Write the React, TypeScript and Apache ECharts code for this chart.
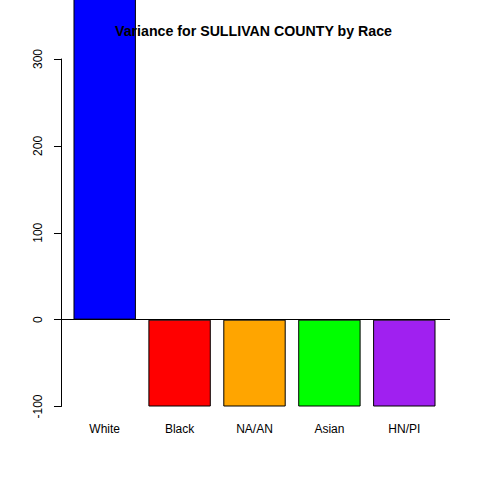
import React, { useEffect, useRef } from "react";
import * as echarts from "echarts";

const categories = ["White", "Black", "NA/AN", "Asian", "HN/PI"];
const positions = [0.7, 1.9, 3.1, 4.3, 5.5];
const values = [420, -100, -100, -100, -100];
const colors = ["#0000FF", "#FF0000", "#FFA500", "#00FF00", "#A020F0"];
const yTicks = { min: -100, max: 300, interval: 100 };
const title = "Variance for SULLIVAN COUNTY by Race";

export default function App() {
  const ref = useRef<HTMLDivElement>(null);
  useEffect(() => {
    if (!ref.current) return;
    const chart = echarts.init(ref.current, undefined, { renderer: "svg" });
    const font = "'Liberation Sans', Arial, sans-serif";
    chart.setOption({
      animation: false,
      backgroundColor: "#ffffff",
      textStyle: { fontFamily: font },
      title: {
        text: title,
        left: 248.5,
        textAlign: "center",
        top: 19,
        textStyle: { fontSize: 14.2, fontWeight: "bold", color: "#000", fontFamily: font },
      },
      grid: { left: 59, right: 30, top: 59, bottom: 73.5, containLabel: false },
      xAxis: {
        type: "value",
        min: -0.032,
        max: 6.232,
        axisLine: { show: false, onZero: false },
        axisTick: { show: false },
        splitLine: { show: false },
        axisLabel: {
          customValues: positions,
          formatter: (v: number) => {
            const i = positions.findIndex((p) => Math.abs(p - v) < 1e-6);
            return i >= 0 ? categories[i] : "";
          },
          margin: 16,
          fontSize: 12,
          color: "#000",
          fontFamily: font,
        },
      },
      yAxis: {
        type: "value",
        min: yTicks.min,
        max: yTicks.max,
        interval: yTicks.interval,
        axisLine: { show: true, lineStyle: { color: "#000", width: 1 } },
        axisTick: { show: true, length: 7, lineStyle: { color: "#000", width: 1 } },
        splitLine: { show: false },
        axisLabel: {
          rotate: 90,
          margin: 21,
          fontSize: 12,
          color: "#000",
          fontFamily: font,
          align: "center",
          verticalAlign: "middle",
        },
      },
      series: [
        {
          type: "bar",
          clip: false,
          barWidth: 62.4,
          data: positions.map((p, i) => ({
            value: [p, values[i]],
            itemStyle: { color: colors[i], borderColor: "#000", borderWidth: 1 },
          })),
          markLine: {
            silent: true,
            symbol: "none",
            label: { show: false },
            lineStyle: { color: "#000", width: 1, type: "solid" },
            data: [{ yAxis: 0 }],
          },
        },
      ],
    });
    return () => chart.dispose();
  }, []);
  return (
    <div
      ref={ref}
      style={{ position: "absolute", left: 0, top: 0, width: 480, height: 480 }}
    />
  );
}
